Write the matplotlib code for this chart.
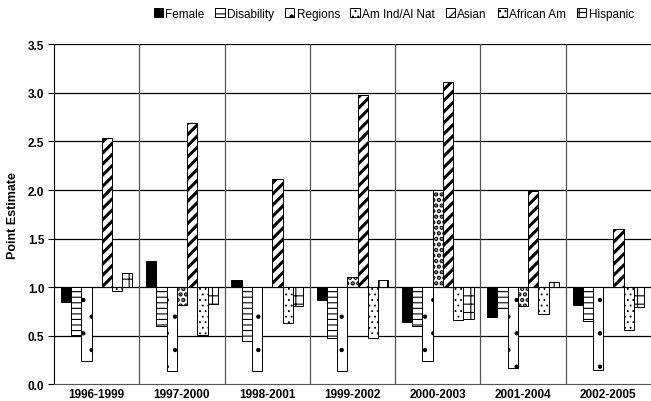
import numpy as np
import matplotlib
matplotlib.use("Agg")
import matplotlib.pyplot as plt

plt.rcParams['font.family'] = ['Liberation Sans', 'DejaVu Sans']
plt.rcParams['hatch.linewidth'] = 0.8

periods = ['1996-1999', '1997-2000', '1998-2001', '1999-2002',
           '2000-2003', '2001-2004', '2002-2005']
series = ['Female', 'Disability', 'Regions', 'Am Ind/Al Nat',
          'Asian', 'African Am', 'Hispanic']

female      = [0.85, 1.27, 1.07, 0.87, 0.64, 0.69, 0.82]
disability  = [0.51, 0.60, 0.44, 0.48, 0.60, 0.78, 0.65]
regions     = [0.24, 0.13, 0.14, 0.14, 0.24, 0.17, 0.15]
am_ind      = [1.00, 0.82, 1.00, 1.10, 2.00, 0.80, 1.00]
asian       = [2.54, 2.69, 2.11, 2.98, 3.11, 1.99, 1.60]
african_am  = [0.96, 0.51, 0.63, 0.48, 0.66, 0.72, 0.56]
hispanic    = [1.15, 0.83, 0.81, 1.07, 0.67, 1.05, 0.79]
values = [female, disability, regions, am_ind, asian, african_am, hispanic]

# fill colour, hatch, hatch line width
styles = [
    ('black', None, 0.8),
    ('white', '---', 0.8),
    ('white', '.', 0.7),
    ('white', '...', 2.2),
    ('white', '///', 2.2),
    ('white', '...', 0.6),
    ('white', '++', 0.8),
]

fig = plt.figure(figsize=(6.51, 4.02), dpi=100)
ax = fig.add_axes([0.083, 0.042, 0.917, 0.845])

n = len(periods)
x = np.arange(n)
w = 0.12
for i, (vals, (fc, hatch, hlw)) in enumerate(zip(values, styles)):
    pos = x - 3 * w + i * w
    h = np.array(vals) - 1.0
    bars = ax.bar(pos, h, w, bottom=1.0, color=fc, edgecolor='black',
                  linewidth=0.7, hatch=hatch, label=series[i], zorder=3)
    for b in bars:
        try:
            b.set_hatch_linewidth(hlw)
        except AttributeError:
            pass

ax.set_xlim(-0.5, n - 0.5)
ax.set_ylim(0, 3.5)
ticks = np.arange(0, 3.51, 0.5)
ax.set_yticks(ticks)
ax.set_yticklabels(['%.1f' % v for v in ticks], fontsize=8.5, fontweight='bold')
ax.set_xticks(x)
ax.set_xticklabels(periods, fontsize=8.5, fontweight='bold')
ax.tick_params(axis='x', length=0, pad=3)
ax.tick_params(axis='y', length=4, width=0.8, pad=3)
ax.set_ylabel('Point Estimate', fontsize=9, fontweight='bold', labelpad=6)

for yv in ticks[1:]:
    ax.axhline(yv, color='black', linewidth=0.9, zorder=1)
for xv in np.arange(0.5, n - 0.5, 1):
    ax.axvline(xv, color='#555555', linewidth=0.9, zorder=1)

for s in ['top', 'right']:
    ax.spines[s].set_visible(False)
ax.spines['left'].set_color('black')
ax.spines['bottom'].set_color('#555555')

fig.legend(loc='upper right', bbox_to_anchor=(0.99, 1.005), ncol=7, frameon=False,
           fontsize=8.5, handlelength=0.8, handleheight=0.8, handletextpad=0.2,
           columnspacing=0.9)

fig.savefig('out.png', dpi=100)
